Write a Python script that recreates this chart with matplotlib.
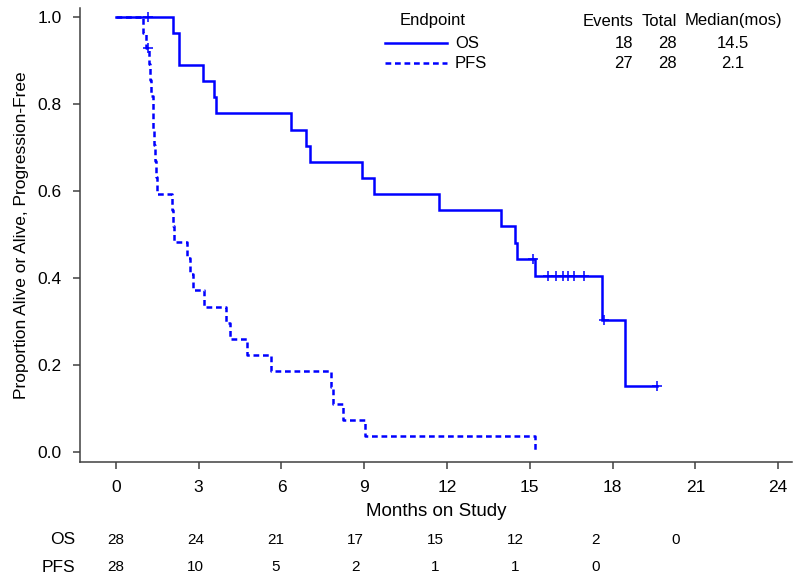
import numpy as np
import matplotlib
matplotlib.use("Agg")
import matplotlib.pyplot as plt
from matplotlib.lines import Line2D
from matplotlib.transforms import blended_transform_factory

plt.rcParams['font.family'] = ['Liberation Sans', 'DejaVu Sans']

BLUE = '#0000ff'

# OS: Kaplan-Meier steps
os_times = [0, 2.08, 2.29, 3.14, 3.57, 3.62, 6.33, 6.88, 7.03, 8.93, 9.34,
            11.7, 13.95, 14.48, 14.55, 15.2, 17.6, 18.45]
os_surv = [1.0, 0.963, 0.889, 0.852, 0.815, 0.778, 0.741, 0.704, 0.667, 0.630,
           0.593, 0.556, 0.519, 0.481, 0.444, 0.404, 0.303, 0.151]
os_end = 19.6
os_cens_t = [1.17, 15.1, 15.66, 15.95, 16.2, 16.39, 16.6, 16.97, 17.7, 19.6]
os_cens_s = [1.0, 0.444, 0.404, 0.404, 0.404, 0.404, 0.404, 0.404, 0.303, 0.151]

# PFS
pfs_times = [0, 0.97, 1.08, 1.2, 1.25, 1.28, 1.33, 1.36, 1.39, 1.42, 1.46, 1.5,
             2.05, 2.08, 2.11, 2.58, 2.68, 2.8, 3.19, 4.0, 4.15, 4.76, 5.61,
             7.78, 7.85, 8.24, 9.03, 15.2]
pfs_surv = [1.0, 0.964, 0.929, 0.892, 0.855, 0.817, 0.780, 0.743, 0.706, 0.669,
            0.632, 0.594, 0.557, 0.520, 0.483, 0.446, 0.409, 0.372, 0.334,
            0.297, 0.260, 0.223, 0.186, 0.149, 0.111, 0.074, 0.037, 0.0]
pfs_end = 15.2
pfs_cens_t = [1.17]
pfs_cens_s = [0.929]

# numbers at risk
risk_times = [0, 3, 6, 9, 12, 15, 18, 21]
os_risk = [28, 24, 21, 17, 15, 12, 2, 0]
pfs_risk = [28, 10, 5, 2, 1, 1, 0]

x_ticks = [0, 3, 6, 9, 12, 15, 18, 21, 24]
y_ticks = [0.0, 0.2, 0.4, 0.6, 0.8, 1.0]

legend_rows = ['OS', 'PFS']
events = [18, 27]
totals = [28, 28]
medians = ['14.5', '2.1']

fig = plt.figure(figsize=(8, 5.83), dpi=100)
ax = fig.add_axes([0.1, 0.2075, 0.89, 0.7785])

ax.step(os_times + [os_end], os_surv + [os_surv[-1]], where='post',
        color=BLUE, lw=1.8, solid_joinstyle='miter')
ax.step(pfs_times + [pfs_end], pfs_surv + [pfs_surv[-1]], where='post',
        color=BLUE, lw=1.8, linestyle=(0, (2.3, 1.5)))
ax.plot(os_cens_t, os_cens_s, '+', color=BLUE, ms=6.5, mew=1.1)
ax.plot(pfs_cens_t, pfs_cens_s, '+', color=BLUE, ms=6.5, mew=1.1)

ax.set_xlim(-1.3, 24.5)
ax.set_ylim(-0.023, 1.02)
ax.set_xticks(x_ticks)
ax.set_yticks(y_ticks)
ax.set_yticklabels([f'{v:.1f}' for v in y_ticks])
for s in ['top', 'right']:
    ax.spines[s].set_visible(False)
for s in ['left', 'bottom']:
    ax.spines[s].set_color('#404040')
    ax.spines[s].set_linewidth(1.1)
ax.tick_params(direction='out', length=5, width=1.1, color='#404040',
               labelsize=12.5, pad=8)
ax.set_ylabel('Proportion Alive or Alive, Progression-Free', fontsize=12.5,
              labelpad=6)
ax.set_xlabel('Months on Study', fontsize=13.5, labelpad=6)

# legend block drawn by hand
def fx(px):
    return px / 800

def fy(py):
    return 1 - py / 583

fig.text(fx(433), fy(21), 'Endpoint', ha='center', va='center', fontsize=12)
fig.text(fx(633), fy(21), 'Events', ha='right', va='center', fontsize=12)
fig.text(fx(677), fy(21), 'Total', ha='right', va='center', fontsize=12)
fig.text(fx(733), fy(21), 'Median(mos)', ha='center', va='center', fontsize=12)
styles = ['-', (0, (2.3, 1.5))]
for i, name in enumerate(legend_rows):
    yy = [43, 63][i]
    fig.add_artist(Line2D([fx(385), fx(447)], [fy(yy), fy(yy)], color=BLUE,
                          lw=1.8, linestyle=styles[i],
                          transform=fig.transFigure))
    fig.text(fx(455), fy(yy), name, ha='left', va='center', fontsize=12)
    fig.text(fx(633), fy(yy), str(events[i]), ha='right', va='center', fontsize=12)
    fig.text(fx(677), fy(yy), str(totals[i]), ha='right', va='center', fontsize=12)
    fig.text(fx(733), fy(yy), medians[i], ha='center', va='center', fontsize=12)

# at-risk table; the numbers drift slightly left of the ticks in the original
tr = blended_transform_factory(ax.transData, fig.transFigure)
for t, n in zip(risk_times, os_risk):
    ax.text(t * 0.965, fy(540), str(n), transform=tr, ha='center', va='center',
            fontsize=11, clip_on=False)
for t, n in zip(risk_times, pfs_risk):
    ax.text(t * 0.965, fy(567), str(n), transform=tr, ha='center', va='center',
            fontsize=11, clip_on=False)
fig.text(fx(75), fy(540), 'OS', ha='right', va='center', fontsize=12.5)
fig.text(fx(75), fy(567), 'PFS', ha='right', va='center', fontsize=12.5)

fig.savefig('out.png', dpi=100)
